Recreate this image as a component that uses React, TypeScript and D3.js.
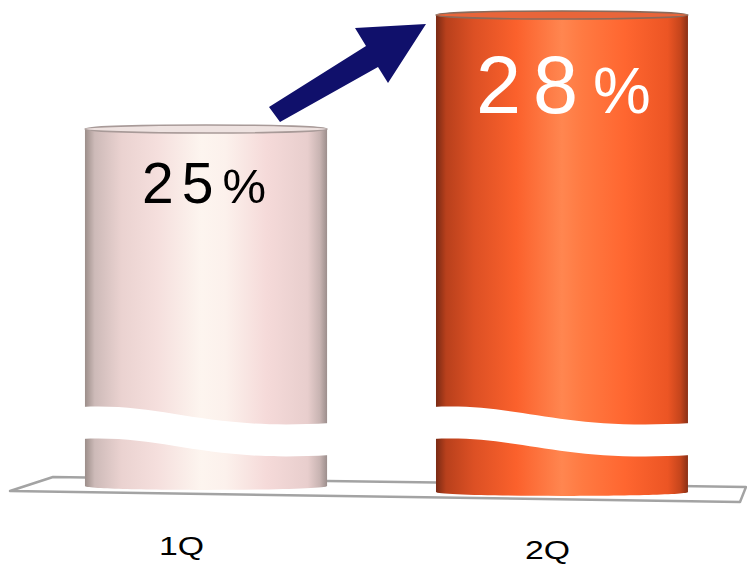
import React from "react";
import * as d3 from "d3";

const categories = ["1Q", "2Q"];
const values = [25, 28];
const valueLabels = ["25", "28"];
const unit = "%";

const W = 747;
const H = 565;

export default function App() {
  const x = d3.scaleBand<string>().domain(categories).range([82.5, 685.5]).paddingInner(0.306).paddingOuter(0);
  const y = d3.scaleLinear().domain([25, 28]).range([129, 15]);

  const breakTop = 407;
  const breakGap = 32;
  const drop = 17;

  const breakPath = (x0: number, x1: number) => {
    const w = x1 - x0;
    const a = x0 - 3;
    const b = x1 + 3;
    const y1 = breakTop;
    const y2 = breakTop + breakGap;
    const p = d3.path();
    p.moveTo(a, y1);
    p.bezierCurveTo(a + 0.35 * w, y1 - 4, a + 0.5 * w, y1 + drop + 7, b, y1 + drop - 1);
    p.lineTo(b, y2 + drop - 1);
    p.bezierCurveTo(a + 0.5 * w, y2 + drop + 7, a + 0.35 * w, y2 - 4, a, y2);
    p.closePath();
    return p.toString();
  };

  const gradStops = [
    [
      ["0%", "#9c8e8a"],
      ["4%", "#cdbab8"],
      ["15%", "#ead2d0"],
      ["30%", "#f5dfdd"],
      ["48%", "#fdf5ef"],
      ["58%", "#fcf1ec"],
      ["75%", "#f5dad9"],
      ["92%", "#e8cecd"],
      ["97%", "#c8b4b2"],
      ["100%", "#9c8e8c"],
    ],
    [
      ["0%", "#7a2a14"],
      ["4%", "#b8401c"],
      ["15%", "#dc5024"],
      ["32%", "#fb612c"],
      ["50%", "#ff8650"],
      ["58%", "#ff7a42"],
      ["75%", "#ff6630"],
      ["92%", "#ec5524"],
      ["97%", "#c5451c"],
      ["100%", "#8a3016"],
    ],
  ];
  const topFill = ["#eee2e0", "#e8653a"];
  const topStroke = ["#a89a98", "#8a6a5a"];
  const textColor = ["#000000", "#ffffff"];
  const bigSize = [57, 81];
  const pctSize = [49, 65];
  const spacing = [8, 12];
  const textOffset = [-64, -86];
  const textBase = [74, 98];
  const pctDx = [1, 3];
  const labelPos = [
    { x: 159, y: 555 },
    { x: 525, y: 559 },
  ];

  const basePoly = [
    [53, 477],
    [746, 487],
    [740, 502],
    [10, 491],
  ];

  return (
    <svg
      width={W}
      height={H}
      style={{ position: "absolute", left: 0, top: 0, background: "#fff" }}
      xmlns="http://www.w3.org/2000/svg"
    >
      <defs>
        {gradStops.map((stops, i) => (
          <linearGradient key={i} id={`cyl${i}`} x1="0" x2="1" y1="0" y2="0">
            {stops.map(([o, c], j) => (
              <stop key={j} offset={o} stopColor={c} />
            ))}
          </linearGradient>
        ))}
      </defs>
      <rect x={0} y={0} width={W} height={H} fill="#fff" />
      <polygon
        points={basePoly.map((p) => p.join(",")).join(" ")}
        fill="#fff"
        stroke="#a3a3a3"
        strokeWidth={2.5}
        strokeLinejoin="round"
      />
      {categories.map((c, i) => {
        const bw = x.bandwidth() * (1 + (i - 0.5) * 0.04);
        const cx = (x(c) as number) + x.bandwidth() / 2;
        const x0 = cx - bw / 2;
        const x1 = cx + bw / 2;
        const top = y(values[i]);
        const bottom = 490 + i * 6;
        const ry = 4;
        const body = d3.path();
        body.moveTo(x0, top);
        body.lineTo(x1, top);
        body.lineTo(x1, bottom - ry);
        body.bezierCurveTo(x1, bottom + ry * 0.3, x0, bottom + ry * 0.3, x0, bottom - ry);
        body.closePath();
        return (
          <g key={c}>
            <path d={body.toString()} fill={`url(#cyl${i})`} />
            <ellipse cx={cx} cy={top} rx={bw / 2} ry={ry} fill={topFill[i]} stroke={topStroke[i]} strokeWidth={1.5} />
            <path d={breakPath(x0, x1)} fill="#fff" />
            <text
              x={cx + textOffset[i]}
              y={top + textBase[i]}
              fill={textColor[i]}
              fontFamily="Liberation Sans, Arial, sans-serif"
            >
              <tspan fontSize={bigSize[i]} letterSpacing={spacing[i]}>
                {valueLabels[i]}
              </tspan>
              <tspan fontSize={pctSize[i]} dx={pctDx[i]}>
                {unit}
              </tspan>
            </text>
            <text
              transform={`translate(${labelPos[i].x},${labelPos[i].y}) scale(1.3,1)`}
              fontSize={26}
              fill="#000"
              fontFamily="Liberation Sans, Arial, sans-serif"
            >
              {c}
            </text>
          </g>
        );
      })}
      <polygon
        points="269,107 366,46 355,28 426,24 388,83 378,67 280,122"
        fill="#10106b"
      />
    </svg>
  );
}
